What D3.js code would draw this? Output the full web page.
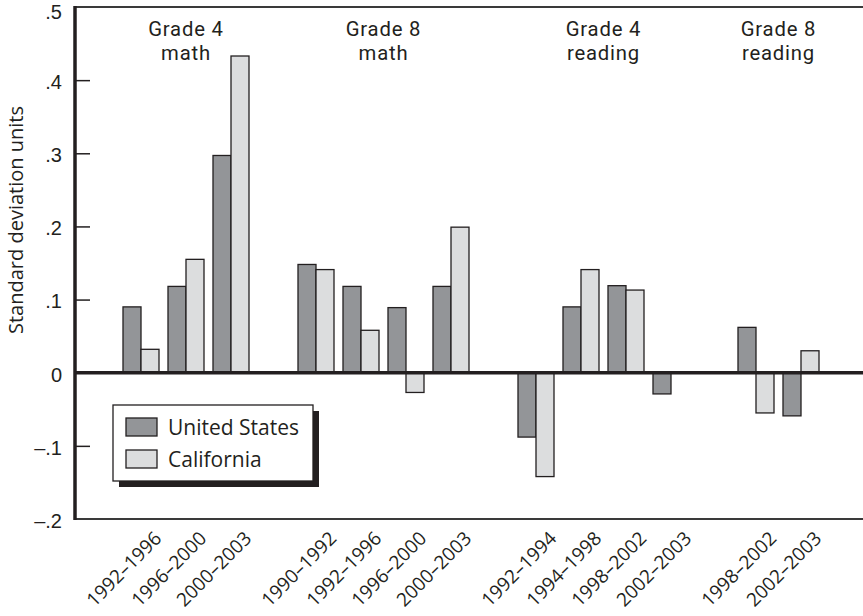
<!DOCTYPE html>
<html>
<head>
<meta charset="utf-8">
<script src="https://cdn.jsdelivr.net/npm/d3@7"></script>
<style>
  html, body { margin: 0; padding: 0; background: #fff; }
  svg { display: block; font-family: "Open Sans", "Noto Sans", sans-serif; }
  text { fill: #231f20; }
</style>
</head>
<body>
<svg id="chart" width="863" height="616"></svg>
<script>
// ---- data ----
const groupLabels = [["Grade 4", "math"], ["Grade 8", "math"], ["Grade 4", "reading"], ["Grade 8", "reading"]];
const categories = ["1992–1996", "1996–2000", "2000–2003",
                    "1990–1992", "1992–1996", "1996–2000", "2000–2003",
                    "1992–1994", "1994–1998", "1998–2002", "2002–2003",
                    "1998–2002", "2002–2003"];
const groupOf = [0, 0, 0, 1, 1, 1, 1, 2, 2, 2, 2, 3, 3];
const usValues = [0.090, 0.118, 0.297, 0.148, 0.118, 0.089, 0.118, -0.088, 0.090, 0.119, -0.029, 0.062, -0.059];
const caValues = [0.032, 0.155, 0.433, 0.141, 0.058, -0.027, 0.199, -0.142, 0.141, 0.113, null, -0.055, 0.030];
const seriesNames = ["United States", "California"];
const yTickValues = [0.5, 0.4, 0.3, 0.2, 0.1, 0, -0.1, -0.2];
const yTickLabels = [".5", ".4", ".3", ".2", ".1", "0", "–.1", "–.2"];

// ---- layout ----
const svg = d3.select("#chart");
const mLeft = 75, mRight = 863, mTop = 7, mBottom = 519;
const colors = ["#939598", "#dcddde"];
const ink = "#231f20";
const barW = 18;
const groupGap = 40 / 45; // extra slot units between groups

const slotPos = categories.map((c, i) => i + groupOf[i] * groupGap);
const x = d3.scaleLinear().domain([0, 1]).range([141, 186]);
const y = d3.scaleLinear().domain([-0.2, 0.5]).range([mBottom, mTop]);

// top & bottom frame lines
svg.append("line").attr("x1", mLeft).attr("x2", mRight).attr("y1", y(0.5)).attr("y2", y(0.5))
  .attr("stroke", "#3a3a3a").attr("stroke-width", 2);
svg.append("line").attr("x1", mLeft).attr("x2", mRight).attr("y1", y(-0.2)).attr("y2", y(-0.2))
  .attr("stroke", "#3a3a3a").attr("stroke-width", 2);

// y axis
const yAxis = d3.axisRight(y).tickValues(yTickValues).tickSize(15)
  .tickFormat((d, i) => yTickLabels[i]);
const ya = svg.append("g").attr("transform", `translate(${mLeft},0)`).call(yAxis);
ya.select(".domain").remove();
ya.selectAll(".tick text").attr("x", -13).attr("text-anchor", "end")
  .attr("font-size", 20).attr("fill", ink)
  .attr("dy", d => d === 0.5 ? "0.55em" : "0.42em");
ya.selectAll(".tick line").attr("stroke", ink).attr("stroke-width", 1.5)
  .filter(d => d === 0.5 || d === -0.2 || d === 0).remove();

// y title
svg.append("text").attr("transform", `translate(23,220) rotate(-90)`)
  .attr("text-anchor", "middle").attr("font-size", 20).text("Standard deviation units");

// bars
const barData = [];
categories.forEach((c, i) => {
  [usValues[i], caValues[i]].forEach((v, s) => {
    if (v !== null) barData.push({ i, s, v });
  });
});
svg.append("g").selectAll("rect").data(barData).join("rect")
  .attr("x", d => x(slotPos[d.i]) - (d.s === 0 ? barW : 0))
  .attr("width", barW)
  .attr("y", d => Math.min(y(d.v), y(0)))
  .attr("height", d => Math.abs(y(d.v) - y(0)))
  .attr("fill", d => colors[d.s])
  .attr("stroke", ink).attr("stroke-width", 1.3);

// zero line
svg.append("line").attr("x1", mLeft).attr("x2", mRight).attr("y1", y(0)).attr("y2", y(0))
  .attr("stroke", ink).attr("stroke-width", 3.5);
// left axis line
svg.append("line").attr("x1", mLeft).attr("x2", mLeft).attr("y1", y(0.5) - 1).attr("y2", y(-0.2) + 1)
  .attr("stroke", ink).attr("stroke-width", 3.5);

// x labels
svg.append("g").selectAll("text").data(categories).join("text")
  .attr("transform", (d, i) => `translate(${x(slotPos[i]) + 12},530) rotate(-45)`)
  .attr("text-anchor", "end").attr("dy", "0.72em").attr("font-size", 19)
  .text(d => d);

// group labels (two lines each)
const groupCenters = groupLabels.map((g, gi) => {
  const idx = groupOf.map((gg, i) => gg === gi ? i : -1).filter(i => i >= 0);
  return (x(slotPos[idx[0]]) + x(slotPos[idx[idx.length - 1]])) / 2;
});
const lineData = [];
groupLabels.forEach((g, gi) => g.forEach((t, li) => lineData.push({ gi, li, t })));
svg.append("g").selectAll("text").data(lineData).join("text")
  .attr("text-anchor", "middle")
  .style("font-family", "Roboto, 'Open Sans', sans-serif")
  .attr("font-size", 20.3).attr("letter-spacing", 0.8)
  .attr("x", d => groupCenters[d.gi]).attr("y", d => 36 + d.li * 24)
  .text(d => d.t);

// legend
const lg = svg.append("g").attr("transform", "translate(113,405)");
lg.append("rect").attr("x", 6).attr("y", 6).attr("width", 200).attr("height", 76).attr("fill", ink);
lg.append("rect").attr("x", 0).attr("y", 0).attr("width", 200).attr("height", 76)
  .attr("fill", "#fff").attr("stroke", ink).attr("stroke-width", 1.3);
seriesNames.forEach((n, s) => {
  lg.append("rect").attr("x", 13).attr("y", 13 + s * 32).attr("width", 31).attr("height", 18)
    .attr("fill", colors[s]).attr("stroke", ink).attr("stroke-width", 1.3);
  lg.append("text").attr("x", 55).attr("y", 30 + s * 32).attr("font-size", 21).text(n);
});
</script>
</body>
</html>
